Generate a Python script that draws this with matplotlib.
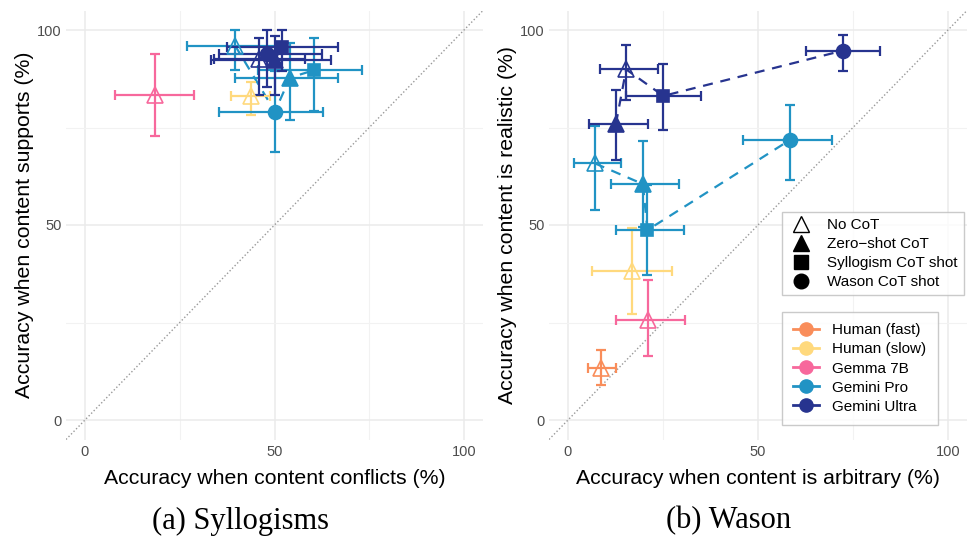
import matplotlib
matplotlib.use("Agg")
import matplotlib.pyplot as plt
from matplotlib.lines import Line2D
import numpy as np

plt.rcParams["font.family"] = ["Liberation Sans", "DejaVu Sans"]

models = ["Human (fast)", "Human (slow)", "Gemma 7B", "Gemini Pro", "Gemini Ultra"]
colors = ["#F98D5A", "#FFD97D", "#F7689C", "#2193C4", "#27348F"]
conditions = ["No CoT", "Zero\u2212shot CoT", "Syllogism CoT shot", "Wason CoT shot"]

# Syllogisms: accuracy when content conflicts (x) vs supports (y)
syl_model = ["Human (slow)", "Gemma 7B",
             "Gemini Pro", "Gemini Pro", "Gemini Pro", "Gemini Pro",
             "Gemini Ultra", "Gemini Ultra", "Gemini Ultra", "Gemini Ultra"]
syl_cond = [0, 0, 0, 1, 2, 3, 0, 1, 2, 3]
syl_x = [43.7, 18.5, 39.6, 54.1, 60.5, 50.1, 45.9, 50.1, 51.9, 47.9]
syl_xlo = [38.4, 7.8, 27.0, 39.6, 45.7, 35.4, 34.0, 33.2, 37.4, 35.4]
syl_xhi = [48.8, 28.8, 52.2, 66.8, 73.0, 62.7, 58.0, 64.8, 66.8, 62.6]
syl_y = [83.2, 83.3, 96.0, 87.8, 89.7, 79.1, 92.5, 92.3, 95.7, 93.8]
syl_ylo = [78.2, 72.9, 89.7, 76.9, 79.2, 68.8, 83.3, 83.3, 89.5, 85.5]
syl_yhi = [86.6, 93.8, 100.0, 96.6, 97.9, 89.4, 97.9, 98.5, 100.0, 100.0]

# Wason: accuracy when content is arbitrary (x) vs realistic (y)
was_model = ["Human (fast)", "Human (slow)", "Gemma 7B",
             "Gemini Pro", "Gemini Pro", "Gemini Pro", "Gemini Pro",
             "Gemini Ultra", "Gemini Ultra", "Gemini Ultra", "Gemini Ultra"]
was_cond = [0, 0, 0, 0, 1, 2, 3, 0, 1, 2, 3]
was_x = [8.6, 16.8, 21.0, 7.1, 19.7, 20.9, 58.4, 15.3, 12.6, 25.1, 72.3]
was_xlo = [5.2, 6.4, 12.6, 1.6, 11.2, 12.6, 46.0, 8.4, 5.6, 15.3, 62.6]
was_xhi = [12.6, 27.3, 30.8, 13.9, 29.3, 30.6, 69.6, 23.8, 21.1, 35.0, 82.1]
was_y = [13.3, 38.3, 25.6, 65.8, 60.5, 48.7, 71.8, 89.9, 75.9, 83.1, 94.7]
was_ylo = [9.0, 27.2, 16.5, 53.8, 49.4, 37.2, 61.5, 82.1, 66.7, 74.4, 89.6]
was_yhi = [17.9, 49.3, 35.9, 75.4, 71.6, 60.2, 80.8, 96.2, 84.6, 91.2, 98.7]

markers = ["^", "^", "s", "o"]
filled = [False, True, True, True]
msizes = [11.5, 11.5, 9, 10]


def draw_panel(ax, mdl, cond, x, xlo, xhi, y, ylo, yhi, xlabel, ylabel):
    mdl = np.array(mdl)
    cond = np.array(cond)
    x, xlo, xhi = np.array(x), np.array(xlo), np.array(xhi)
    y, ylo, yhi = np.array(y), np.array(ylo), np.array(yhi)

    ax.set_xlim(-5, 105)
    ax.set_ylim(-5, 105)
    ax.set_xticks([0, 50, 100])
    ax.set_yticks([0, 50, 100])
    ax.set_xticks([25, 75], minor=True)
    ax.set_yticks([25, 75], minor=True)
    ax.grid(True, which="major", color="#EBEBEB", lw=1.1)
    ax.grid(True, which="minor", color="#F2F2F2", lw=0.8)
    ax.set_axisbelow(True)
    for s in ax.spines.values():
        s.set_visible(False)
    ax.tick_params(which="both", length=0, labelsize=10.5, labelcolor="#4D4D4D")
    ax.tick_params(axis="x", pad=4)
    ax.tick_params(axis="y", pad=3)
    ax.set_xlabel(xlabel, fontsize=15.3, labelpad=7)
    ax.set_ylabel(ylabel, fontsize=15.3, labelpad=2.5)

    ax.axline((0, 0), slope=1, color="#999999", lw=1.0, ls=(0, (1, 1.6)), zorder=1)

    # dashed connectors, ordered along x
    for m, c in zip(models, colors):
        idx = np.where(mdl == m)[0]
        if len(idx) < 2:
            continue
        order = idx[np.argsort(x[idx])]
        ax.plot(x[order], y[order], color=c, lw=1.6, dashes=(4.5, 3.5), zorder=2)

    for m, c in zip(models, colors):
        for i in np.where(mdl == m)[0]:
            ax.errorbar(x[i], y[i],
                        xerr=[[x[i] - xlo[i]], [xhi[i] - x[i]]],
                        yerr=[[y[i] - ylo[i]], [yhi[i] - y[i]]],
                        fmt="none", ecolor=c, elinewidth=1.6, capsize=3.5,
                        capthick=1.6, zorder=3)
            k = cond[i]
            ax.plot(x[i], y[i], marker=markers[k], ms=msizes[k], ls="none",
                    mfc=c if filled[k] else "none", mec=c, mew=1.2, zorder=4)


fig = plt.figure(figsize=(9.67, 5.36), dpi=100)
W, H = 967, 536
ax1 = fig.add_axes([66 / W, 1 - 439.5 / H, 417 / W, 429 / H])
ax2 = fig.add_axes([549 / W, 1 - 439.5 / H, 418 / W, 429 / H])

draw_panel(ax1, syl_model, syl_cond, syl_x, syl_xlo, syl_xhi, syl_y, syl_ylo, syl_yhi,
           "Accuracy when content conflicts (%)", "Accuracy when content supports (%)")
draw_panel(ax2, was_model, was_cond, was_x, was_xlo, was_xhi, was_y, was_ylo, was_yhi,
           "Accuracy when content is arbitrary (%)", "Accuracy when content is realistic (%)")

shape_handles = [Line2D([], [], marker=markers[k], ls="none", ms=msizes[k] + 0.5,
                        mfc="black" if filled[k] else "white", mec="black", mew=1.0)
                 for k in range(len(conditions))]
leg1 = fig.legend(shape_handles, conditions, loc="upper left",
                  bbox_to_anchor=(782 / W, 1 - 212 / H), fontsize=11,
                  frameon=True, fancybox=False, edgecolor="#BDBDBD",
                  handlelength=1.7, handletextpad=0.85, labelspacing=0.33,
                  borderpad=0.4, borderaxespad=0)
leg1.get_frame().set_linewidth(1.0)

color_handles = [Line2D([], [], color=c, lw=2, marker="o", ms=9.5) for c in colors]
leg2 = fig.legend(color_handles, models, loc="upper left",
                  bbox_to_anchor=(782 / W, 1 - 312 / H), fontsize=11,
                  frameon=True, fancybox=False, edgecolor="#BDBDBD",
                  handlelength=1.7, handletextpad=0.85, labelspacing=0.33,
                  borderpad=0.75, borderaxespad=0)
leg2.get_frame().set_linewidth(1.0)

fig.text(241 / W, 1 - 521 / H, "(a) Syllogisms", ha="center", va="center",
         fontsize=22, family=["Liberation Serif", "DejaVu Serif"])
fig.text(729 / W, 1 - 521 / H, "(b) Wason", ha="center", va="center",
         fontsize=22, family=["Liberation Serif", "DejaVu Serif"])

fig.savefig("out.png", dpi=100)
